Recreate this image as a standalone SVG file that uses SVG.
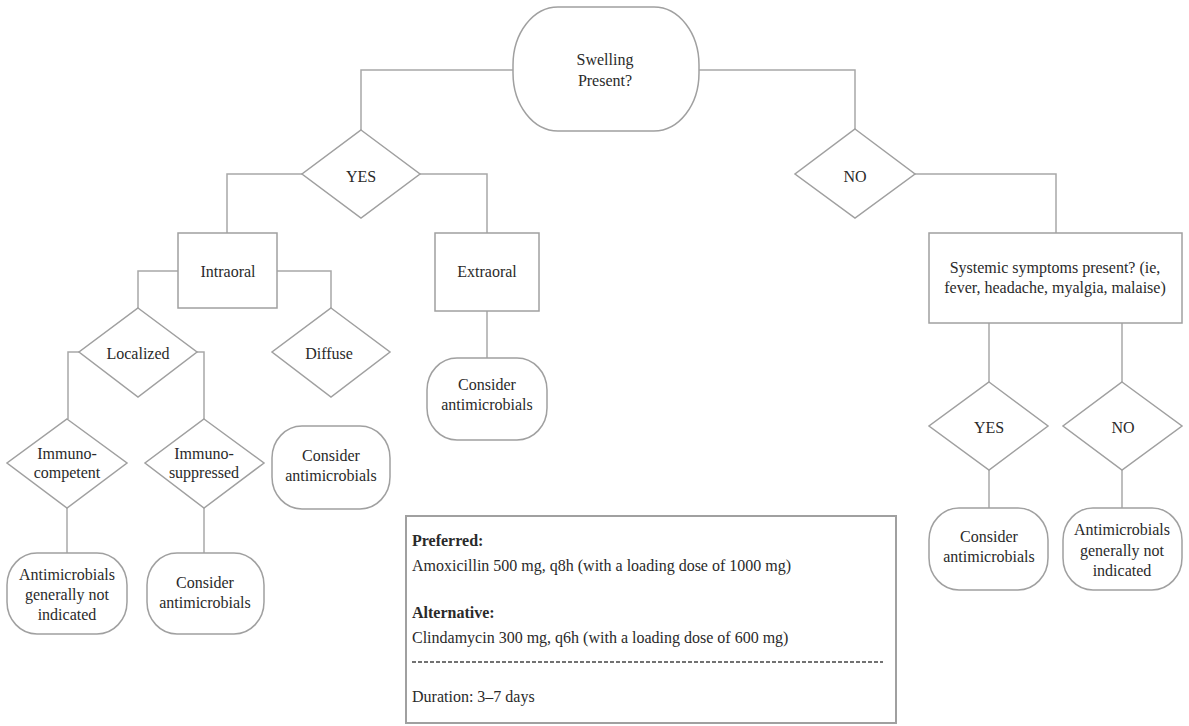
<svg xmlns="http://www.w3.org/2000/svg" width="1189" height="726" viewBox="0 0 1189 726">
<style>
.s{fill:#fff;stroke:#a0a0a0;stroke-width:1.5}
.c{fill:none;stroke:#a8a8a8;stroke-width:1.5}
text{font-family:'Liberation Serif','DejaVu Serif','Noto Serif','FreeSerif','Tinos','Times New Roman',Times,serif;font-size:16px;fill:#2a2a2a}
.m{text-anchor:middle}
.b{font-weight:bold}
</style>
<rect width="1189" height="726" fill="#fff"/>
<g id="connectors">
<polyline class="c" points="513,70 361,70 361,130"/>
<polyline class="c" points="699,70 855,70 855,129"/>
<polyline class="c" points="302,174 227,174 227,233"/>
<polyline class="c" points="420,174 487,174 487,233"/>
<polyline class="c" points="178,271 138,271 138,308"/>
<polyline class="c" points="277,271 331,271 331,308"/>
<polyline class="c" points="79,352 68,352 68,419"/>
<polyline class="c" points="197,352 204,352 204,419"/>
<line class="c" x1="67" y1="508" x2="67" y2="553"/>
<line class="c" x1="204" y1="508" x2="204" y2="553"/>
<line class="c" x1="487" y1="311" x2="487" y2="358"/>
<polyline class="c" points="915,174 1056,174 1056,233"/>
<line class="c" x1="989" y1="323" x2="989" y2="382"/>
<line class="c" x1="1122" y1="323" x2="1122" y2="382"/>
<line class="c" x1="989" y1="470" x2="989" y2="508"/>
<line class="c" x1="1122" y1="470" x2="1122" y2="508"/>
</g>
<g id="swelling">
<rect class="s" x="513" y="7" width="186" height="124" rx="45" ry="58"/>
<text class="m" x="605" y="65">Swelling</text>
<text class="m" x="605" y="86">Present?</text>
</g>
<g id="yes1">
<polygon class="s" points="361,130 420,174 361,218 302,174"/>
<text class="m" x="361" y="182">YES</text>
</g>
<g id="no1">
<polygon class="s" points="855,129 915,174 855,218 795,174"/>
<text class="m" x="855" y="182">NO</text>
</g>
<g id="intraoral">
<rect class="s" x="178" y="233" width="99" height="75"/>
<text class="m" x="228" y="277">Intraoral</text>
</g>
<g id="extraoral">
<rect class="s" x="435" y="233" width="104" height="78"/>
<text class="m" x="487" y="277">Extraoral</text>
</g>
<g id="localized">
<polygon class="s" points="138,308 197,352 138,397 79,352"/>
<text class="m" x="138" y="359">Localized</text>
</g>
<g id="diffuse">
<polygon class="s" points="331,308 390,352 331,397 272,352"/>
<text class="m" x="329" y="359">Diffuse</text>
</g>
<g id="consider-extra">
<rect class="s" x="427" y="358" width="120" height="82" rx="30" ry="32"/>
<text class="m" x="487" y="390">Consider</text>
<text class="m" x="487" y="410">antimicrobials</text>
</g>
<g id="consider-diffuse">
<rect class="s" x="272" y="426" width="118" height="83" rx="30" ry="32"/>
<text class="m" x="331" y="461">Consider</text>
<text class="m" x="331" y="481">antimicrobials</text>
</g>
<g id="immunocompetent">
<polygon class="s" points="67,419 127,463 67,508 7,463"/>
<text class="m" x="67" y="459">Immuno-</text>
<text class="m" x="67" y="478">competent</text>
</g>
<g id="immunosuppressed">
<polygon class="s" points="204,419 264,463 204,508 145,463"/>
<text class="m" x="204" y="459">Immuno-</text>
<text class="m" x="204" y="478">suppressed</text>
</g>
<g id="not-indicated-left">
<rect class="s" x="7" y="553" width="120" height="81" rx="30" ry="32"/>
<text class="m" x="67" y="580">Antimicrobials</text>
<text class="m" x="67" y="600">generally not</text>
<text class="m" x="67" y="620">indicated</text>
</g>
<g id="consider-left">
<rect class="s" x="147" y="553" width="117" height="81" rx="30" ry="32"/>
<text class="m" x="205" y="588">Consider</text>
<text class="m" x="205" y="608">antimicrobials</text>
</g>
<g id="systemic">
<rect class="s" x="929" y="233" width="253" height="90"/>
<text class="m" x="1055" y="273">Systemic symptoms present? (ie,</text>
<text class="m" x="1055" y="293">fever, headache, myalgia, malaise)</text>
</g>
<g id="yes2">
<polygon class="s" points="989,382 1048,426 989,470 929,426"/>
<text class="m" x="989" y="433">YES</text>
</g>
<g id="no2">
<polygon class="s" points="1122,382 1182,426 1122,470 1063,426"/>
<text class="m" x="1123" y="433">NO</text>
</g>
<g id="consider-right">
<rect class="s" x="929" y="508" width="119" height="82" rx="30" ry="32"/>
<text class="m" x="989" y="542">Consider</text>
<text class="m" x="989" y="562">antimicrobials</text>
</g>
<g id="not-indicated-right">
<rect class="s" x="1063" y="508" width="119" height="82" rx="30" ry="32"/>
<text class="m" x="1122" y="535">Antimicrobials</text>
<text class="m" x="1122" y="556">generally not</text>
<text class="m" x="1122" y="576">indicated</text>
</g>
<g id="regimen">
<rect x="406" y="516" width="490" height="207" fill="#fff" stroke="#a0a0a0" stroke-width="2"/>
<text class="b" x="412" y="546">Preferred:</text>
<text x="412" y="571">Amoxicillin 500 mg, q8h (with a loading dose of 1000 mg)</text>
<text class="b" x="412" y="618">Alternative:</text>
<text x="412" y="643">Clindamycin 300 mg, q6h (with a loading dose of 600 mg)</text>
<line x1="412" y1="662" x2="883" y2="662" stroke="#444" stroke-width="1.5" stroke-dasharray="4,2"/>
<text x="412" y="702">Duration: 3–7 days</text>
</g>
</svg>
